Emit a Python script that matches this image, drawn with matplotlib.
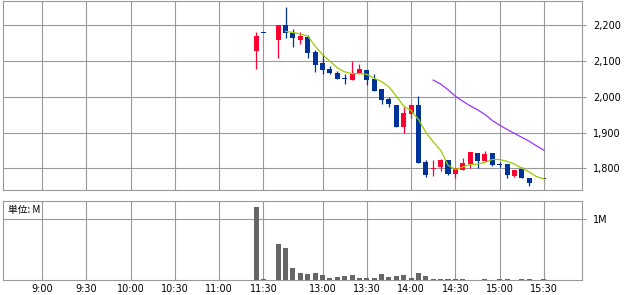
import matplotlib
matplotlib.use("Agg")
import matplotlib.pyplot as plt
from matplotlib.ticker import FuncFormatter, FixedLocator

# ---------------- data ----------------
times = ["11:25", "11:30", "12:30", "12:35", "12:40", "12:45", "12:50", "12:55",
         "13:00", "13:05", "13:10", "13:15", "13:20", "13:25", "13:30", "13:35",
         "13:40", "13:45", "13:50", "13:55", "14:00", "14:05", "14:10", "14:15",
         "14:20", "14:25", "14:30", "14:35", "14:40", "14:45", "14:50", "14:55",
         "15:00", "15:05", "15:10", "15:15", "15:20", "15:30"]
opens = [2129, 2180, 2159, 2200, 2179, 2160, 2167, 2126, 2095, 2077, 2068, 2052,
         2048, 2068, 2075, 2050, 2021, 1995, 1978, 1916, 1953, 1978, 1818, 1800,
         1804, 1823, 1785, 1797, 1813, 1843, 1822, 1843, 1812, 1813, 1779, 1799,
         1774, 1772]
highs = [2181, 2180, 2200, 2250, 2190, 2180, 2172, 2132, 2121, 2085, 2071, 2065,
         2099, 2092, 2075, 2065, 2023, 2000, 1978, 1972, 1976, 2002, 1823, 1825,
         1826, 1823, 1800, 1830, 1846, 1843, 1850, 1843, 1818, 1813, 1796, 1804,
         1774, 1772]
lows = [2079, 2180, 2109, 2165, 2139, 2148, 2109, 2070, 2065, 2064, 2051, 2037,
        2048, 2068, 2032, 2017, 1979, 1971, 1916, 1899, 1940, 1816, 1776, 1779,
        1794, 1782, 1772, 1797, 1800, 1802, 1822, 1806, 1804, 1772, 1777, 1772,
        1752, 1772]
closes = [2170, 2180, 2200, 2179, 2165, 2169, 2123, 2090, 2076, 2067, 2051, 2052,
          2067, 2078, 2048, 2017, 1992, 1979, 1916, 1956, 1976, 1816, 1781, 1802,
          1823, 1785, 1800, 1815, 1846, 1821, 1841, 1811, 1812, 1781, 1796, 1772,
          1758, 1772]
volumes_m = [1.20, 0.01, 0.595, 0.53, 0.20, 0.12, 0.10, 0.12, 0.08, 0.04, 0.055,
             0.065, 0.085, 0.04, 0.035, 0.038, 0.098, 0.055, 0.066, 0.082, 0.038,
             0.115, 0.066, 0.016, 0.016, 0.016, 0.016, 0.011, 0.006, 0.006, 0.016,
             0.006, 0.016, 0.016, 0.006, 0.016, 0.016, 0.016]

ma_short_times = ["12:35", "12:40", "12:45", "12:50", "12:55", "13:00", "13:05",
                  "13:10", "13:15", "13:20", "13:25", "13:30", "13:35", "13:40",
                  "13:45", "13:50", "13:55", "14:00", "14:05", "14:10", "14:15",
                  "14:20", "14:25", "14:30", "14:35", "14:40", "14:45", "14:50",
                  "14:55", "15:00", "15:05", "15:10", "15:15", "15:20", "15:25",
                  "15:30"]
ma_short = [2183, 2180, 2176, 2170, 2142, 2118, 2100, 2081, 2070, 2065, 2065, 2063,
            2052, 2043, 2028, 2002, 1974, 1962, 1937, 1901, 1874, 1851, 1809, 1797,
            1804, 1811, 1812, 1817, 1825, 1825, 1820, 1812, 1801, 1790, 1777, 1771]

ma_long_times = ["14:15", "14:20", "14:25", "14:30", "14:35", "14:40", "14:45",
                 "14:50", "14:55", "15:00", "15:05", "15:10", "15:15", "15:20",
                 "15:25", "15:30"]
ma_long = [2047, 2036, 2020, 2002, 1988, 1975, 1964, 1951, 1934, 1921, 1909, 1898,
           1887, 1876, 1863, 1851]

grid_labels = ["9:00", "9:30", "10:00", "10:30", "11:00", "11:30",
               "13:00", "13:30", "14:00", "14:30", "15:00", "15:30"]
price_ticks = [1800, 1900, 2000, 2100, 2200]
volume_ticks = [1]
volume_tick_labels = ["1M"]
volume_unit_label = "単位: M"


# ---------------- helpers ----------------
def slot(t):
    h, m = map(int, t.split(":"))
    mins = h * 60 + m
    if mins <= 690:           # morning session (9:00-11:30)
        return (mins - 540) / 5.0
    return (mins - 750) / 5.0 + 32   # afternoon session from 12:30


RED = "#ff0033"
BLUE = "#003399"
GRID = "#999999"
W, H = 638, 295

fig = plt.figure(figsize=(W / 100, H / 100), dpi=100)
ax = fig.add_axes([3 / W, (H - 190) / H, 579 / W, 189 / H])
vax = fig.add_axes([3 / W, (H - 280) / H, 579 / W, 79 / H], sharex=ax)

xs = [slot(t) for t in times]
gx = [slot(t) if t not in ("13:00", "13:30", "14:00", "14:30", "15:00", "15:30")
      else slot(t) for t in grid_labels]

for a in (ax, vax):
    for s in a.spines.values():
        s.set_color(GRID)
        s.set_linewidth(0.8)
    a.set_axisbelow(True)
    for g in gx:
        a.axvline(g, color=GRID, lw=0.8, zorder=0)

ax.set_xlim(-5.28, 73.15)
ax.set_ylim(1739.8, 2268)
vax.set_ylim(0, 79 / 61)

for p in price_ticks:
    ax.axhline(p, color=GRID, lw=0.8, zorder=0)
for v in volume_ticks:
    vax.axhline(v, color=GRID, lw=0.8, zorder=0)

# candles
bw = 0.68
min_h = 2.8
for x, o, h, l, c in zip(xs, opens, highs, lows, closes):
    col = RED if c > o else BLUE
    ax.vlines(x, l, h, color=col, lw=0.9, zorder=3)
    bottom = min(o, c)
    height = abs(c - o)
    if height < min_h:
        bottom = (o + c) / 2 - min_h / 2
        height = min_h
    ax.bar(x, height, bw, bottom=bottom, color=col, lw=0, zorder=4)

ax.plot([slot(t) for t in ma_short_times], ma_short, color="#99cc00", lw=0.9, zorder=5)
ax.plot([slot(t) for t in ma_long_times], ma_long, color="#9933ff", lw=0.9, zorder=5)

vax.bar(xs, volumes_m, bw, color="#666666", lw=0, zorder=3)

# axes ticks
ax.yaxis.tick_right()
ax.yaxis.set_major_locator(FixedLocator(price_ticks))
ax.yaxis.set_major_formatter(FuncFormatter(lambda v, p: f"{int(v):,}"))
ax.tick_params(axis="y", length=3, width=0.8, color=GRID, pad=5, labelsize=7)
ax.tick_params(axis="x", length=0, labelbottom=False)

vax.yaxis.tick_right()
vax.set_yticks(volume_ticks)
vax.set_yticklabels(volume_tick_labels)
vax.tick_params(axis="y", length=3, width=0.8, color=GRID, pad=5, labelsize=7)
vax.set_xticks(gx)
vax.set_xticklabels(grid_labels)
vax.tick_params(axis="x", length=0, pad=3, labelsize=7)

vax.text(5 / 579, 1 - 4 / 79, volume_unit_label, transform=vax.transAxes,
         ha="left", va="top", fontsize=7,
         family=["Noto Sans CJK JP", "DejaVu Sans"])

fig.savefig("out.png", dpi=100)
